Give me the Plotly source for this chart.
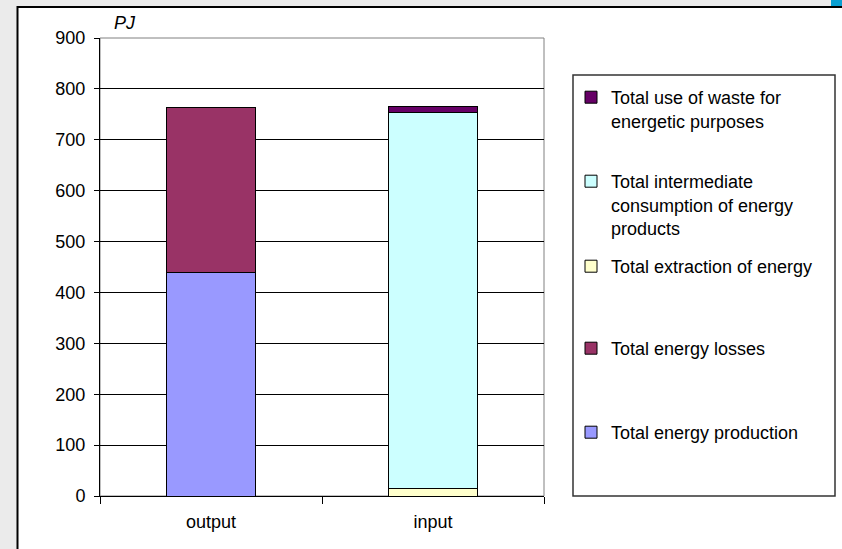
import plotly.graph_objects as go

# ---- data ----
categories = ["output", "input"]
production = [439, 0]
losses = [324, 0]
extraction = [0, 14]
intermediate = [0, 739]
waste = [0, 12]
y_ticks = [0, 100, 200, 300, 400, 500, 600, 700, 800, 900]

series = [
    ("Total energy production", production, "#9999ff", "legend"),
    ("Total energy losses", losses, "#993366", "legend2"),
    ("Total extraction of energy", extraction, "#ffffcc", "legend3"),
    ("Total intermediate<br>consumption of energy<br>products", intermediate, "#ccffff", "legend4"),
    ("Total use of waste for<br>energetic purposes", waste, "#660066", "legend5"),
]

# ---- layout geometry (pixels) ----
FW, FH = 842, 549
L, T, R, B = 100, 38, 544, 496
PW, PH = R - L, B - T


def px(p):
    return (p - L) / PW


def py(p):
    return (B - p) / PH


FONT = "Liberation Sans, Arial, sans-serif"

fig = go.Figure()
for name, vals, color, lg in series:
    fig.add_trace(go.Bar(
        x=categories, y=vals, name=name, legend=lg,
        marker=dict(color=color, line=dict(color="#000000", width=1)),
        hovertemplate=name.replace("<br>", " ") + ": %{y} PJ<extra></extra>",
    ))

# legend entry positions (pixel top-left of each legend box)
legend_pos = {
    "legend5": (571, 79),
    "legend4": (571, 163),
    "legend3": (571, 248),
    "legend2": (571, 330),
    "legend": (571, 414),
}
legend_layout = {}
for key, (lx, ly) in legend_pos.items():
    legend_layout[key] = dict(
        x=px(lx), y=py(ly), xanchor="left", yanchor="top",
        xref="paper", yref="paper",
        bgcolor="rgba(0,0,0,0)", borderwidth=0, valign="top",
        font=dict(family=FONT, size=18, color="#000000"),
    )

fig.update_layout(
    width=FW, height=FH,
    margin=dict(l=L, r=FW - R, t=T, b=FH - B, pad=0),
    paper_bgcolor="#ebebeb",
    plot_bgcolor="#c0c0c0",
    barmode="stack",
    bargap=0.595,
    showlegend=True,
    font=dict(family=FONT, size=18, color="#000000"),
    xaxis=dict(
        type="category", showgrid=False, showline=True, linecolor="#000000", linewidth=1,
        ticks="outside", tickson="boundaries", ticklen=7, tickcolor="#000000",
        tickfont=dict(family=FONT, size=18, color="#000000"), ticklabelstandoff=9,
        fixedrange=True,
    ),
    yaxis=dict(
        range=[0, 900], tickvals=y_ticks, showgrid=True, gridcolor="#000000", gridwidth=1,
        showline=True, linecolor="#000000", linewidth=1, zeroline=False,
        ticks="outside", ticklen=5, tickcolor="#000000",
        tickfont=dict(family=FONT, size=18, color="#000000"), ticklabelstandoff=5,
        fixedrange=True,
    ),
    shapes=[
        # white chart area with dark border
        dict(type="rect", xref="paper", yref="paper", layer="below",
             x0=px(17.5), x1=px(900), y0=py(620), y1=py(7),
             fillcolor="#ffffff", line=dict(color="#000000", width=2)),
        # blue corner mark
        dict(type="rect", xref="paper", yref="paper", layer="below",
             x0=px(831), x1=px(845), y0=py(6), y1=py(-5),
             fillcolor="#0aa0d2", line=dict(width=0)),
        # plot area border (gray)
        dict(type="rect", xref="x domain", yref="y domain", layer="below",
             x0=0, x1=1, y0=0, y1=1, line=dict(color="#808080", width=1)),
        # legend box
        dict(type="rect", xref="paper", yref="paper", layer="above",
             x0=px(573), x1=px(835), y0=py(496), y1=py(75),
             line=dict(color="#333333", width=1.5)),
    ],
    annotations=[
        dict(text="<i>PJ</i>", xref="paper", yref="paper", x=px(112), y=py(23),
             xanchor="left", yanchor="middle", showarrow=False,
             font=dict(family=FONT, size=18, color="#000000")),
    ],
    **legend_layout,
)

fig.write_html(
    "out.html",
    config={"displayModeBar": False},
    post_script="document.body.style.margin='0';"
                "document.body.style.overflow='hidden';"
                "document.body.style.background='#ebebeb';",
)
